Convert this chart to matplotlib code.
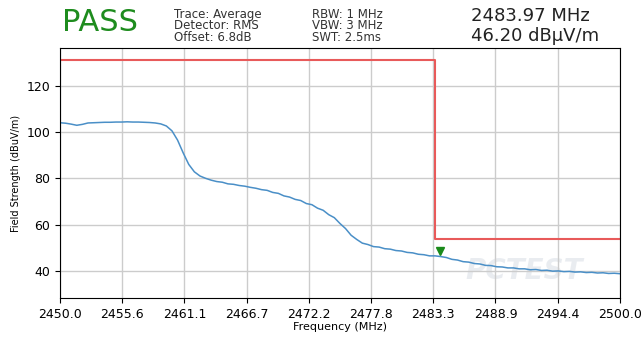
import numpy as np
import matplotlib.pyplot as plt

# trace values (0.5 MHz steps)
freq = np.arange(2450.0, 2500.01, 0.5)
level = [104.0, 103.8, 103.4, 102.9, 103.3, 103.9, 104.0, 104.1, 104.2, 104.2,
         104.3, 104.3, 104.4, 104.3, 104.3, 104.2, 104.1, 103.9, 103.5, 102.6,
         100.5, 96.5, 91.0, 86.0, 82.8, 81.0, 80.0, 79.2, 78.6, 78.3,
         77.6, 77.4, 76.9, 76.6, 76.1, 75.7, 75.1, 74.8, 73.9, 73.5,
         72.4, 71.9, 70.9, 70.4, 69.1, 68.6, 67.1, 66.2, 64.3, 63.0,
         60.5, 58.3, 55.4, 53.6, 52.0, 51.4, 50.5, 50.3, 49.6, 49.4,
         48.8, 48.6, 48.0, 47.8, 47.2, 47.0, 46.5, 46.5, 46.2, 45.8,
         45.0, 44.7, 44.0, 43.8, 43.2, 43.0, 42.4, 42.3, 41.8, 41.7,
         41.3, 41.3, 40.9, 40.9, 40.5, 40.6, 40.2, 40.3, 39.9, 40.0,
         39.7, 39.8, 39.5, 39.6, 39.3, 39.4, 39.1, 39.2, 38.9, 39.0,
         38.8]

limit_x = [2450.0, 2483.5, 2483.5, 2500.0]
limit_y = [131.0, 131.0, 54.0, 54.0]

marker_f = 2483.97
marker_v = 46.20
xticks = np.linspace(2450, 2500, 10)

fig = plt.figure(figsize=(6.43, 3.37), dpi=100)
ax = fig.add_axes([0.0933, 0.1157, 0.8707, 0.742])

ax.plot(freq, level, color='#4a8fc7', lw=1.1)
ax.plot(limit_x, limit_y, color='#e85a5a', lw=1.5)
ax.plot(marker_f, marker_v + 2.2, marker='v', color='#1a8a1a', markersize=6)

# faint watermark
ax.text(2486.2, 36.5, 'PCTEST', fontsize=20, color='#d5dbe3', alpha=0.5,
        fontweight='bold', style='italic', zorder=0)

ax.set_xlim(2450, 2500)
ax.set_ylim(28.3, 136.3)
ax.set_xticks(xticks)
ax.set_xticklabels([f'{t:.1f}' for t in xticks], fontsize=9)
ax.set_yticks([40, 60, 80, 100, 120])
ax.tick_params(axis='y', labelsize=9)
ax.grid(True, color='#cccccc', lw=1)
ax.set_axisbelow(True)
ax.set_xlabel('Frequency (MHz)', fontsize=8, labelpad=1)
ax.set_ylabel('Field Strength (dBuV/m)', fontsize=7)

fig.text(0.097, 0.908, 'PASS', fontsize=22, color='#1e8c1e', va='baseline')

left_lines = ['Trace: Average', 'Detector: RMS', 'Offset: 6.8dB']
mid_lines = ['RBW: 1 MHz', 'VBW: 3 MHz', 'SWT: 2.5ms']
for i, (a, b) in enumerate(zip(left_lines, mid_lines)):
    y = 0.948 - i * 0.035
    fig.text(0.270, y, a, fontsize=8.5, color='#333333', va='baseline')
    fig.text(0.486, y, b, fontsize=8.5, color='#333333', va='baseline')

fig.text(0.733, 0.937, '2483.97 MHz', fontsize=13, color='#222222', va='baseline')
fig.text(0.733, 0.879, '46.20 dBµV/m', fontsize=13, color='#222222', va='baseline')

fig.savefig('out.png', dpi=100)
